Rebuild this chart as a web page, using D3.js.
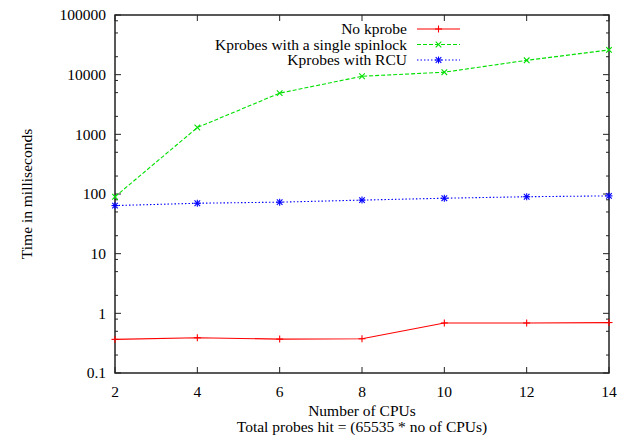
<!DOCTYPE html>
<html>
<head>
<meta charset="utf-8">
<script src="https://cdn.jsdelivr.net/npm/d3@7"></script>
<style>
  body { margin: 0; background: #fff; }
  svg text { font-family: 'Liberation Serif', 'Times New Roman', Times, 'DejaVu Serif', serif; font-size: 15.5px; fill: #000; }
</style>
</head>
<body>
<svg id="chart" width="628" height="437" font-family="Liberation Serif, Times New Roman, serif"></svg>
<script>
// data
const cpus = [2, 4, 6, 8, 10, 12, 14]
const noKprobe = [0.366, 0.39, 0.37, 0.375, 0.69, 0.69, 0.70]
const spinlock = [90, 1300, 4900, 9400, 11000, 17400, 26000]
const rcu = [64, 70, 73, 79, 85, 90, 93]

const xTicks = [2, 4, 6, 8, 10, 12, 14]
const yTicks = [0.1, 1, 10, 100, 1000, 10000, 100000]

const series = [
    {name: 'No kprobe', values: noKprobe, color: '#ff0000', dash: null, mark: 'plus'},
    {name: 'Kprobes with a single spinlock', values: spinlock, color: '#00e000', dash: '4,2', mark: 'cross'},
    {name: 'Kprobes with RCU', values: rcu, color: '#0000ff', dash: '1.5,2', mark: 'star'}
]

const m = {left: 115, right: 609, top: 15, bottom: 373}
const svg = d3.select('#chart')

const x = d3.scaleLinear().domain([2, 14]).range([m.left, m.right])
const y = d3.scaleLog().domain([0.1, 100000]).range([m.bottom, m.top])

// minor ticks on the log axis
const minor = []
yTicks.slice(0, -1).forEach(d => [2, 5, 8].forEach(k => minor.push(d * k)))

const axes = svg.append('g').attr('class', 'axes')
const tickStroke = g => g.attr('stroke', '#222').attr('stroke-width', 1)

// y ticks, left and mirrored right, pointing inward
yTicks.forEach(d => {
    axes.append('line').call(tickStroke)
        .attr('x1', m.left).attr('x2', m.left + 6).attr('y1', y(d)).attr('y2', y(d))
    axes.append('line').call(tickStroke)
        .attr('x1', m.right).attr('x2', m.right - 6).attr('y1', y(d)).attr('y2', y(d))
    axes.append('text')
        .attr('x', m.left - 9).attr('y', y(d)).attr('dy', '0.34em')
        .attr('text-anchor', 'end')
        .text(d3.format('~g')(d))
})
minor.forEach(d => {
    axes.append('line').call(tickStroke)
        .attr('x1', m.left).attr('x2', m.left + 3).attr('y1', y(d)).attr('y2', y(d))
    axes.append('line').call(tickStroke)
        .attr('x1', m.right).attr('x2', m.right - 3).attr('y1', y(d)).attr('y2', y(d))
})

xTicks.forEach(d => {
    axes.append('line').call(tickStroke)
        .attr('x1', x(d)).attr('x2', x(d)).attr('y1', m.bottom).attr('y2', m.bottom - 6)
    axes.append('line').call(tickStroke)
        .attr('x1', x(d)).attr('x2', x(d)).attr('y1', m.top).attr('y2', m.top + 6)
    axes.append('text')
        .attr('x', x(d)).attr('y', 397)
        .attr('text-anchor', 'middle')
        .text(d)
})

axes.append('rect')
    .attr('x', m.left).attr('y', m.top)
    .attr('width', m.right - m.left).attr('height', m.bottom - m.top)
    .attr('fill', 'none').attr('stroke', '#222').attr('stroke-width', 1.5)

// labels
svg.append('text')
    .attr('x', (m.left + m.right) / 2).attr('y', 416)
    .attr('text-anchor', 'middle')
    .text('Number of CPUs')
svg.append('text')
    .attr('x', (m.left + m.right) / 2).attr('y', 432)
    .attr('text-anchor', 'middle')
    .text('Total probes hit = (65535 * no of CPUs)')
svg.append('text')
    .attr('transform', `translate(27,${(m.top + m.bottom) / 2}) rotate(-90)`)
    .attr('dy', '0.34em')
    .attr('text-anchor', 'middle')
    .text('Time in milliseconds')

const marker = (sel, type, color) => {
    const s = 3.5
    const segs = []
    if (type === 'plus' || type === 'star') segs.push([-s, 0, s, 0], [0, -s, 0, s])
    if (type === 'cross' || type === 'star') segs.push([-s * 0.8, -s * 0.8, s * 0.8, s * 0.8], [-s * 0.8, s * 0.8, s * 0.8, -s * 0.8])
    segs.forEach(([x1, y1, x2, y2]) => sel.append('line')
        .attr('x1', x1).attr('y1', y1).attr('x2', x2).attr('y2', y2)
        .attr('stroke', color).attr('stroke-width', 1.1))
}

const line = d3.line()
    .x(d => x(d[0]))
    .y(d => y(d[1]))

const plot = svg.append('g').attr('class', 'series')
series.forEach(s => {
    const pts = cpus.map((c, i) => [c, s.values[i]])
    plot.append('path')
        .datum(pts)
        .attr('d', line)
        .attr('fill', 'none')
        .attr('stroke', s.color)
        .attr('stroke-width', 1.1)
        .attr('stroke-dasharray', s.dash)
    pts.forEach(p => {
        plot.append('g')
            .attr('transform', `translate(${x(p[0])},${y(p[1])})`)
            .call(marker, s.mark, s.color)
    })
})

// legend
const legend = svg.append('g').attr('class', 'legend')
series.forEach((s, i) => {
    const ly = 29 + i * 15.5
    legend.append('text')
        .attr('x', 407).attr('y', ly).attr('dy', '0.34em')
        .attr('text-anchor', 'end')
        .text(s.name)
    legend.append('line')
        .attr('x1', 417).attr('x2', 460).attr('y1', ly).attr('y2', ly)
        .attr('stroke', s.color).attr('stroke-width', 1.1)
        .attr('stroke-dasharray', s.dash)
    legend.append('g')
        .attr('transform', `translate(438.5,${ly})`)
        .call(marker, s.mark, s.color)
})
</script>
</body>
</html>
